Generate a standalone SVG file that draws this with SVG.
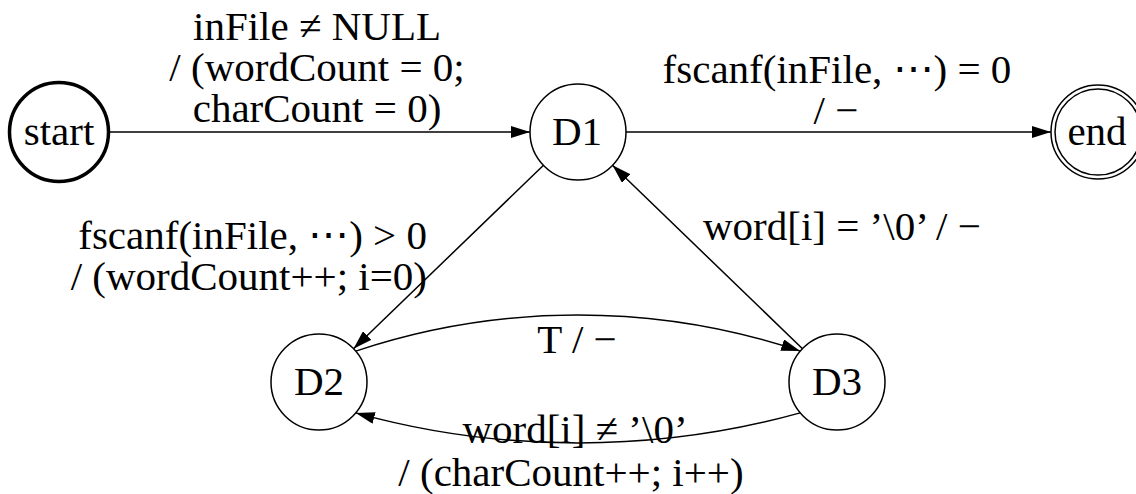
<svg xmlns="http://www.w3.org/2000/svg" width="1136" height="494" viewBox="0 0 1136 494">
<style>
text{font-family:"Liberation Serif","Times New Roman","DejaVu Serif",serif;font-size:41px;fill:#000}
.c{text-anchor:middle}
.e{text-anchor:end}
.node{fill:#fff;stroke:#000;stroke-width:1.5}
.edge{fill:none;stroke:#000;stroke-width:1.5;marker-end:url(#arr)}
</style>
<defs>
<marker id="arr" markerUnits="userSpaceOnUse" markerWidth="20" markerHeight="12" refX="19" refY="6" orient="auto">
<path d="M0,0 L19,6 L0,12 z" fill="#000"/>
</marker>
</defs>
<rect width="1136" height="494" fill="#fff"/>
<g id="connectors">
<line class="edge" x1="110" y1="132" x2="530" y2="132"/>
<line class="edge" x1="626" y1="132" x2="1051" y2="132"/>
<line class="edge" x1="543.5" y1="165.3" x2="353.5" y2="348.7"/>
<line class="edge" x1="802.5" y1="348.7" x2="612.5" y2="165.3"/>
<path class="edge" d="M355.8,351.1 C500,303 656,303 800.2,351.1"/>
<path class="edge" d="M800.2,412.9 C656,453 500,453 355.8,412.9"/>
</g>
<g id="labels">
<text class="c" x="317" y="40">inFile ≠ NULL</text>
<text class="c" x="317" y="81">/ (wordCount = 0;</text>
<text class="c" x="317" y="122">charCount = 0)</text>
<text class="c" x="837" y="83">fscanf(inFile, ⋯) = 0</text>
<text class="c" x="836" y="124">/ −</text>
<text class="e" x="427" y="249">fscanf(inFile, ⋯) &gt; 0</text>
<text class="e" x="427" y="290">/ (wordCount++; i=0)</text>
<text x="703" y="240">word[i] = ’\0’ / −</text>
<text class="c" x="577" y="353">T / −</text>
<text class="c" x="575" y="443">word[i] ≠ ’\0’</text>
<text class="c" x="571" y="486">/ (charCount++; i++)</text>
</g>
<g id="start">
<circle cx="59" cy="132" r="49.5" fill="#fff" stroke="#000" stroke-width="3.5"/>
<text class="c" x="59" y="145">start</text>
</g>
<g id="D1">
<circle class="node" cx="578" cy="132" r="48"/>
<text class="c" x="577" y="145">D1</text>
</g>
<g id="end">
<circle class="node" cx="1098" cy="132" r="47"/>
<circle class="node" cx="1098" cy="132" r="43"/>
<text class="c" x="1097" y="145">end</text>
</g>
<g id="D2">
<circle class="node" cx="319" cy="382" r="48"/>
<text class="c" x="319" y="395">D2</text>
</g>
<g id="D3">
<circle class="node" cx="837" cy="382" r="48"/>
<text class="c" x="837" y="395">D3</text>
</g>
</svg>
